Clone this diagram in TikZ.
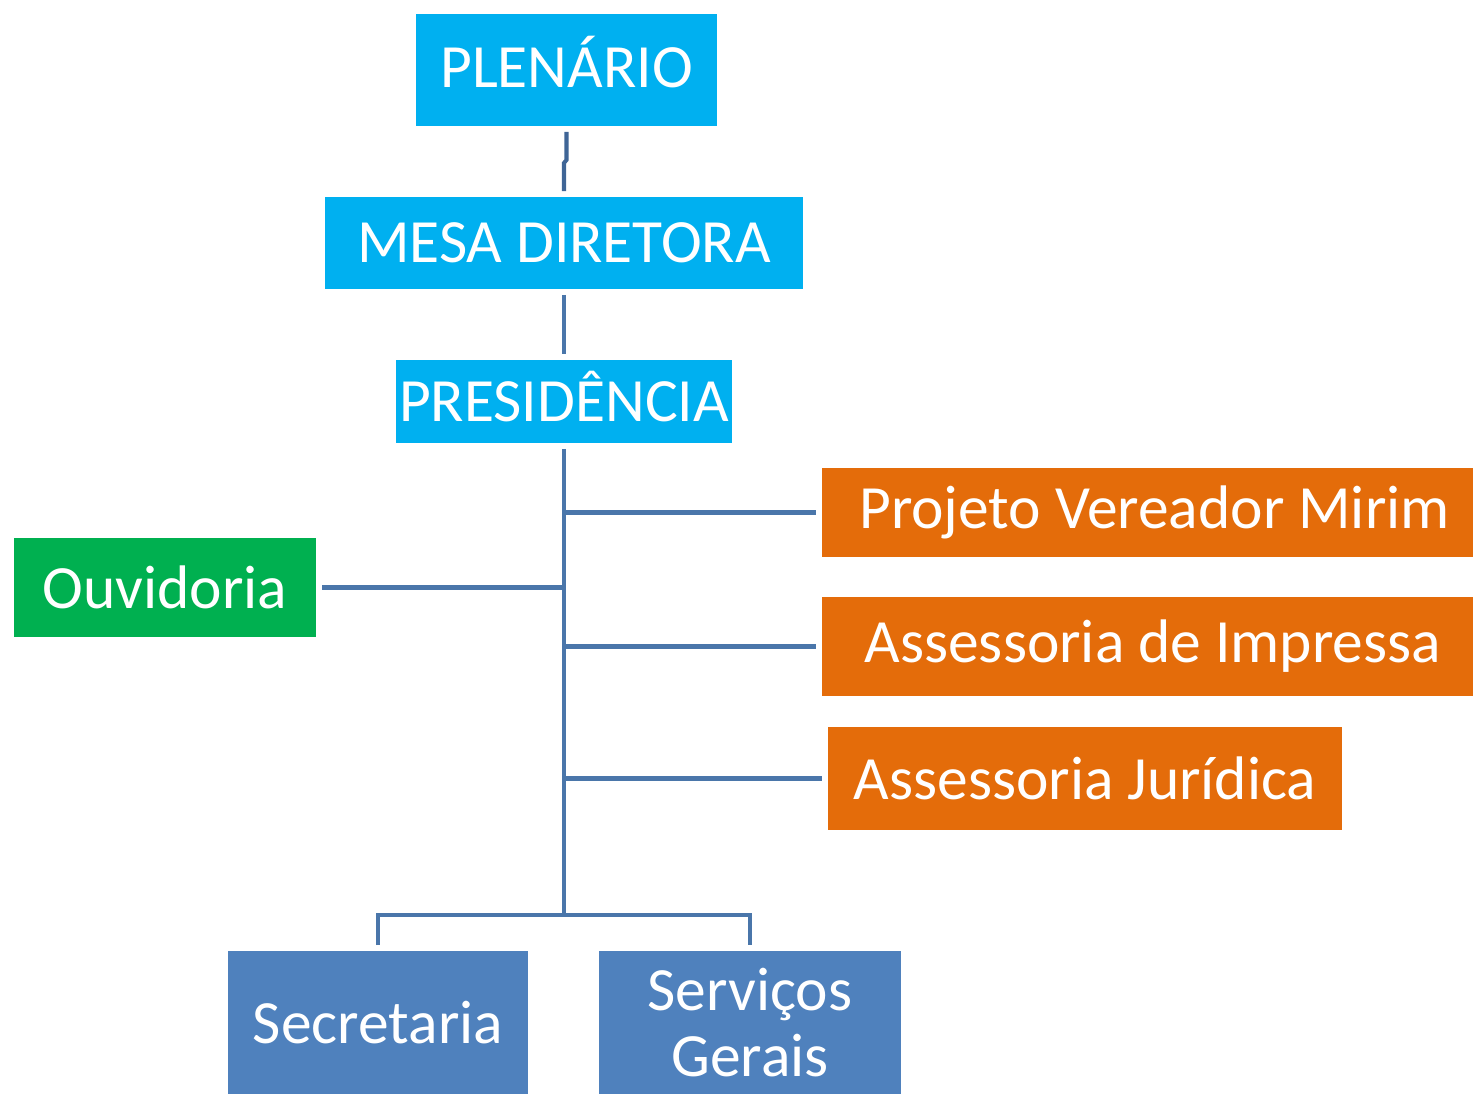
\documentclass[tikz,border=0pt]{standalone}
\usepackage{fontspec}
\setmainfont{Carlito}
\definecolor{cyanfill}{HTML}{00B0F0}
\definecolor{orangefill}{HTML}{E46C0A}
\definecolor{greenfill}{HTML}{00B050}
\definecolor{bluefill}{HTML}{4F81BD}
\definecolor{linkblue}{HTML}{4A76AA}
\definecolor{linkdark}{HTML}{3F6596}
\begin{document}
\begin{tikzpicture}[
        x=0.02cm, y=-0.02cm,
        box/.style={rectangle, text=white, inner sep=0pt, outer sep=3.4pt,
            font=\fontsize{35}{38}\selectfont, align=center},
        topbox/.style={box, fill=cyanfill},
        sidebox/.style={box, fill=orangefill},
        leftbox/.style={box, fill=greenfill},
        basebox/.style={box, fill=bluefill},
        link/.style={draw=linkblue, line width=2.3pt}
    ]
        \useasboundingbox (0,0) rectangle (1473,1094);

        % Top chain
        \node[topbox, minimum width=301*0.02cm, minimum height=112*0.02cm] (plenario) at (566.5,70) {\raisebox{9pt}{PLENÁRIO}};
        \node[topbox, minimum width=478*0.02cm, minimum height=92*0.02cm] (mesa) at (564,243) {MESA DIRETORA};
        \node[topbox, minimum width=336*0.02cm, minimum height=83*0.02cm] (pres) at (564,401.5) {\raisebox{6pt}{PRESIDÊNCIA}};

        % Assessorias (right)
        \node[sidebox, minimum width=651*0.02cm, minimum height=89*0.02cm] (projeto) at (1147.5,512.5) {\hspace{8pt}Projeto Vereador Mirim};
        \node[sidebox, minimum width=651*0.02cm, minimum height=99*0.02cm] (impressa) at (1147.5,646.5) {\hspace{6pt}Assessoria de Impressa};
        \node[sidebox, minimum width=514*0.02cm, minimum height=103*0.02cm] (juridica) at (1085,778.5) {Assessoria Jurídica};

        % Ouvidoria (left)
        \node[leftbox, minimum width=302*0.02cm, minimum height=99*0.02cm] (ouvidoria) at (165,587.5) {Ouvidoria};

        % Bottom row
        \node[basebox, minimum width=300*0.02cm, minimum height=143*0.02cm] (secretaria) at (378,1022.5) {Secretaria};
        \node[basebox, minimum width=302*0.02cm, minimum height=143*0.02cm] (servicos) at (750,1022.5) {Serviços\\[0pt]Gerais};

        \coordinate (bus) at (564,915);

        % Top links
        \draw[link, draw=linkdark] (plenario.south) -- ++(0,28) -- ++(-2.5,3) -- (mesa.north);
        \draw[link] (mesa.south) -- (pres.north);

        % Trunk and branches
        \draw[link] (pres.south) -- (pres.south |- bus);
        \foreach \b in {projeto, impressa, juridica}
            \draw[link] (pres.south |- \b.west) -- (\b.west);
        \draw[link] (pres.south |- ouvidoria.east) -- (ouvidoria.east);

        % Bottom bus
        \draw[link] (secretaria.north) -- (secretaria.north |- bus) -- (servicos.north |- bus) -- (servicos.north);

    \end{tikzpicture}
\end{document}
